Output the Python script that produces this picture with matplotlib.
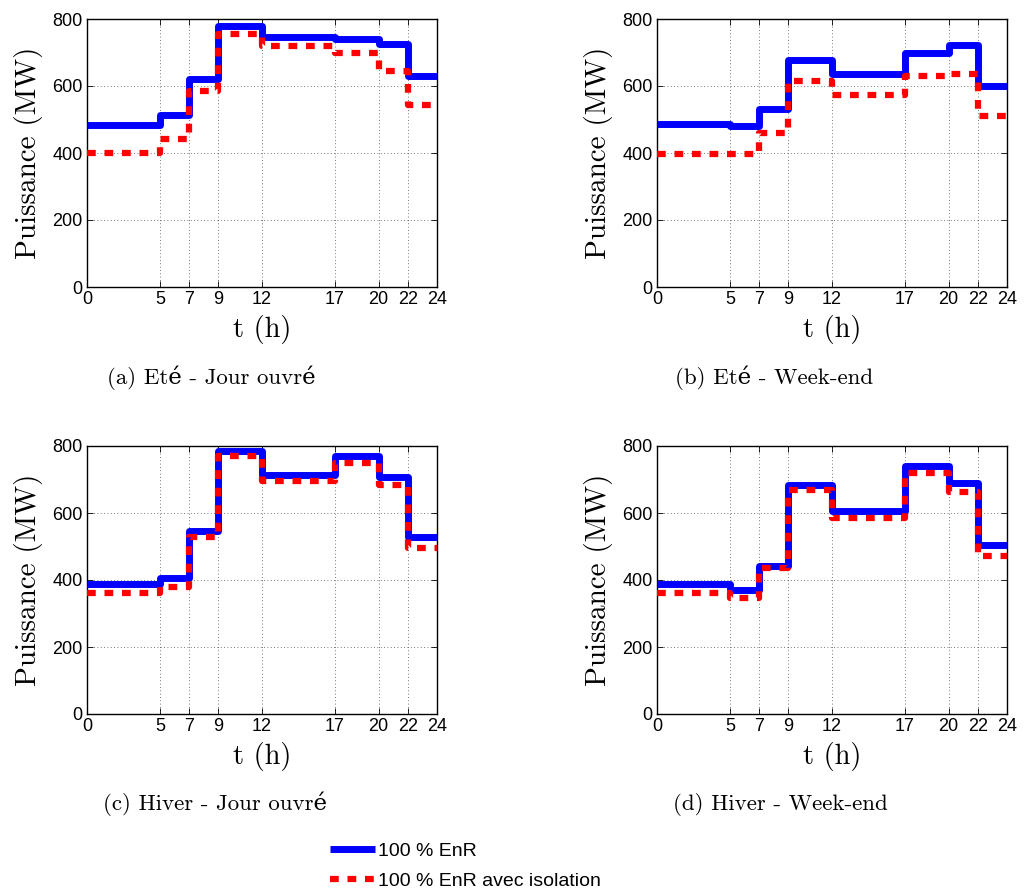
import matplotlib

matplotlib.use("Agg")

import matplotlib.pyplot as plt
from matplotlib.lines import Line2D

# hour breakpoints shared by all panels
hours = [0, 5, 7, 9, 12, 17, 20, 22, 24]
xticks = [0, 5, 7, 9, 12, 17, 20, 22, 24]
yticks = [0, 200, 400, 600, 800]

# power per period (MW), one value per interval
ete_jour_enr = [483, 513, 621, 778, 747, 739, 725, 630]
ete_jour_iso = [399, 441, 585, 754, 720, 699, 646, 542]
ete_we_enr = [486, 480, 530, 678, 636, 700, 722, 600]
ete_we_iso = [398, 398, 459, 614, 573, 629, 635, 511]
hiver_jour_enr = [389, 406, 547, 785, 713, 770, 708, 529]
hiver_jour_iso = [360, 380, 529, 769, 696, 750, 683, 496]
hiver_we_enr = [389, 370, 442, 685, 605, 740, 691, 504]
hiver_we_iso = [360, 345, 437, 668, 586, 720, 663, 471]

captions = [
    "(a) Eté - Jour ouvré",
    "(b) Eté - Week-end",
    "(c) Hiver - Jour ouvré",
    "(d) Hiver - Week-end",
]
legend_labels = ["100 % EnR", "100 % EnR avec isolation"]

serif = ["cmr10", "DejaVu Serif"]
sans = ["Liberation Sans Narrow", "Liberation Sans", "DejaVu Sans"]

W, H = 1025, 891
fig = plt.figure(figsize=(W / 100, H / 100), dpi=100)

# axes boxes in pixels: left, top, right, bottom
boxes = [
    (87, 19, 437, 287),
    (657, 19, 1007, 287),
    (87, 446, 437, 714),
    (657, 446, 1007, 714),
]
caption_pos = [(211, 378), (774, 378), (215, 804), (780, 804)]
series = [
    (ete_jour_enr, ete_jour_iso),
    (ete_we_enr, ete_we_iso),
    (hiver_jour_enr, hiver_jour_iso),
    (hiver_we_enr, hiver_we_iso),
]


def steps(vals):
    return list(vals) + [vals[-1]]


for (l, t, r, b), (enr, iso), cap, (cx, cy) in zip(boxes, series, captions, caption_pos):
    ax = fig.add_axes([l / W, (H - b) / H, (r - l) / W, (b - t) / H])
    ax.step(hours, steps(enr), where="post", color="#0000ff", lw=5,
            solid_joinstyle="round", solid_capstyle="butt", zorder=3)
    ax.step(hours, steps(iso), where="post", color="#ff0000", lw=4.5,
            dashes=(1.4, 1.4), dash_capstyle="butt", zorder=4)
    ax.set_xlim(0, 24)
    ax.set_ylim(0, 800)
    ax.set_xticks(xticks)
    ax.set_yticks(yticks)
    ax.grid(True, color="black", linestyle=(0, (1, 3)), linewidth=0.6, alpha=0.7)
    ax.tick_params(direction="in", top=True, right=True, length=4, width=0.6,
                   labelsize=13, pad=3)
    for lab in ax.get_xticklabels() + ax.get_yticklabels():
        lab.set_family(sans)
    for sp in ax.spines.values():
        sp.set_linewidth(1.0)
    ax.set_xlabel("t (h)", family=serif, fontsize=20.5, labelpad=5)
    ax.set_ylabel("Puissance (MW)", family=serif, fontsize=21, labelpad=7)
    fig.text(cx / W, 1 - cy / H, cap, family=serif, fontsize=16.5,
             ha="center", va="center")

handles = [
    Line2D([], [], color="#0000ff", lw=5, solid_capstyle="butt"),
    Line2D([], [], color="#ff0000", lw=4.5, dashes=(1.4, 1.4), dash_capstyle="butt"),
]
fig.legend(handles, legend_labels, loc="center left",
           bbox_to_anchor=(330 / W, 1 - 866 / H), frameon=False,
           prop={"family": ["Liberation Sans", "DejaVu Sans"], "size": 14},
           handlelength=2.3, handletextpad=0.15, labelspacing=0.65,
           borderpad=0, borderaxespad=0)

fig.savefig("out.png", dpi=100)
